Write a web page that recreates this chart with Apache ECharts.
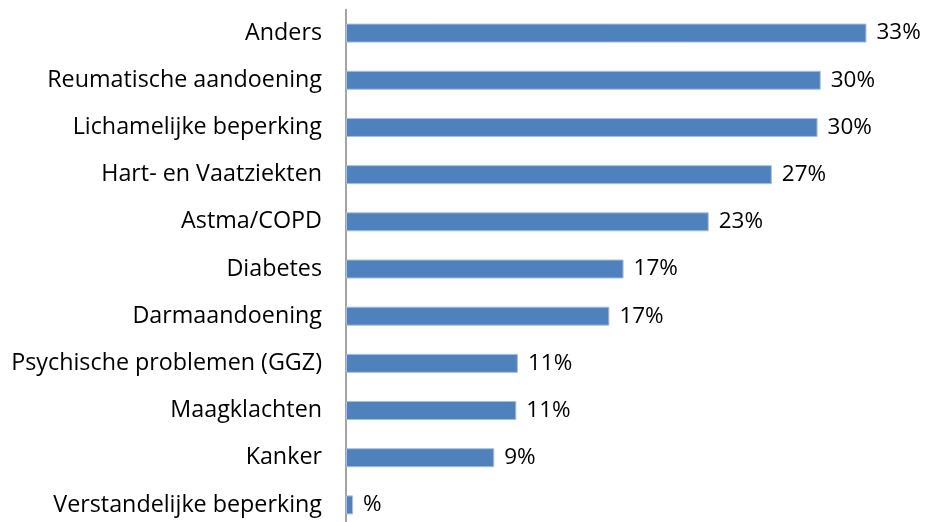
<!DOCTYPE html>
<html>
<head>
<meta charset="utf-8">
<script src="https://cdn.jsdelivr.net/npm/echarts@6/dist/echarts.min.js"></script>
<style>
  html, body { margin:0; padding:0; background:#fff; }
  #chart { width:926px; height:522px; }
</style>
</head>
<body>
<div id="chart"></div>
<script>
// categories from top to bottom
const categories = [
  'Anders', 'Reumatische aandoening', 'Lichamelijke beperking', 'Hart- en Vaatziekten',
  'Astma/COPD', 'Diabetes', 'Darmaandoening', 'Psychische problemen (GGZ)',
  'Maagklachten', 'Kanker', 'Verstandelijke beperking'
];
const values = [33.0, 30.1, 29.9, 27.0, 23.0, 17.6, 16.7, 10.9, 10.8, 9.4, 0.45];
const valueLabels = ['33%', '30%', '30%', '27%', '23%', '17%', '17%', '11%', '11%', '9%', '%'];

const chart = echarts.init(document.getElementById('chart'));
chart.setOption({
  animation: false,
  grid: {left: 346, right: 28, top: 9.5, height: 519, outerBoundsMode: 'none', containLabel: false},
  xAxis: {
    type: 'value', min: 0, max: 35,
    show: false
  },
  yAxis: {
    type: 'category',
    inverse: true,
    data: categories,
    axisLine: {show: true, lineStyle: {color: '#868686', width: 1.5}},
    axisTick: {show: false},
    axisLabel: {fontSize: 23.3, color: '#000', margin: 24, fontFamily: 'Open Sans'}
  },
  series: [{
    type: 'bar',
    data: values.map((v, i) => ({value: v, label: {formatter: valueLabels[i]}})),
    barWidth: 19,
    itemStyle: {color: '#4f81bd', borderColor: '#a7c0de', borderWidth: 1},
    label: {
      show: true, position: 'right', distance: 10,
      fontSize: 22.5, color: '#000', fontFamily: 'Open Sans'
    }
  }]
});
</script>
</body>
</html>
